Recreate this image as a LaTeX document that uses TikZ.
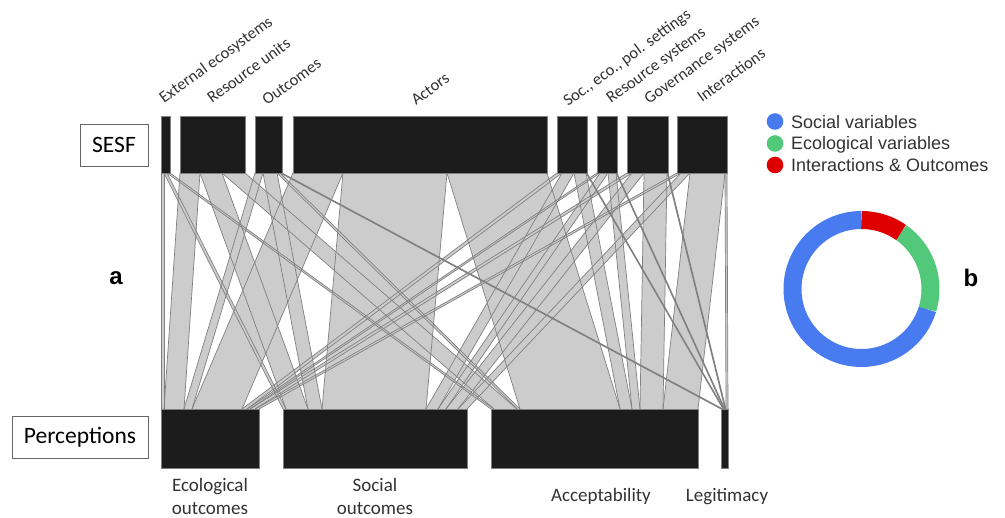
\documentclass[tikz,border=0pt]{standalone}
\usepackage{fontspec}
\setmainfont{Carlito}
\newfontfamily\legfont{Liberation Sans}
\usetikzlibrary{calc}
\definecolor{socblue}{RGB}{72,122,240}
\definecolor{ecogreen}{RGB}{82,200,122}
\definecolor{intred}{RGB}{222,0,0}
\definecolor{barblack}{RGB}{28,28,28}
\definecolor{ribgray}{RGB}{204,204,204}
\definecolor{edgegray}{RGB}{128,128,128}
\definecolor{txtgray}{RGB}{50,50,50}
\tikzset{
  ribbon/.style={fill=ribgray},
  ribedge/.style={draw=edgegray,line width=0.7pt},
  bar/.style={fill=barblack,draw=gray,line width=0.4pt},
  toplab/.style={rotate=36,anchor=base west,inner sep=0pt,text=txtgray,font=\fontsize{16.5}{19}\selectfont},
  botlab/.style={align=center,anchor=base,inner sep=0pt,text=txtgray,font=\fontsize{19}{22.5}\selectfont},
  catbox/.style={draw=gray!80!black,line width=0.6pt,inner sep=0pt,minimum height=42pt,font=\fontsize{23.5}{26}\selectfont},
  legtext/.style={anchor=base west,inner sep=0pt,text=txtgray,font=\legfont\fontsize{18}{21}\selectfont},
  panel/.style={font=\legfont\bfseries\fontsize{24}{28}\selectfont}
}
\begin{document}
\begin{tikzpicture}[x=1pt,y=-1pt]
\useasboundingbox (0,0) rectangle (1005,518);
% flows: top left/top right/bottom left/bottom right
\def\flows{161/164/161/164, 164/167/283/286, 167/170/491/494,
  180/200/164/184, 200/222/286/308, 222/245/494/517,
  255/263/184/192, 263/277/308/322, 277/280/517/520, 280/282/721/723,
  293/343/192/242, 343/447/322/426, 447/547/520/620,
  557/562/242/247, 562/574/426/438, 574/586/620/632, 586/587/723/724,
  597/600/247/250, 600/608/438/446, 608/616/632/640, 616/617/724/725,
  627/632/250/255, 632/644/446/458, 644/667/640/663, 667/668/725/726,
  677/681/255/259, 681/690/458/467, 690/725/663/698, 725/727/726/728}
\foreach \a/\b/\c/\d in \flows
  \fill[ribbon] (\a,173) -- (\b,173) -- (\d,409) -- (\c,409) -- cycle;
\foreach \a/\b/\c/\d in \flows
  \draw[ribedge] (\a,173) -- (\c,409) (\b,173) -- (\d,409);
% SESF bars
\foreach \l/\r in {161/170,180/245,255/282,293/547,557/587,597/617,627/668,677/727}
  \fill[bar] (\l,116) rectangle (\r,173);
% perception bars
\foreach \l/\r in {161/259,283/467,491/698,721/728}
  \fill[bar] (\l,409) rectangle (\r,468);
\node[catbox,minimum width=68pt] (sesf) at (114,145) {SESF};
\node[catbox,minimum width=136pt] (perc) at (80,437) {Perceptions};
\node[toplab] (ext) at (164,104) {External ecosystems};
\node[toplab] (runits) at (212,104) {Resource units};
\node[toplab] (outc) at (267,106) {Outcomes};
\node[toplab] (actors) at (416,106) {Actors};
\node[toplab] (settings) at (568,107) {Soc., eco., pol. settings};
\node[toplab] (rsys) at (611,104) {Resource systems};
\node[toplab] (gsys) at (649,105) {Governance systems};
\node[toplab] (inter) at (702,103) {Interactions};
\node[botlab] (ecoout) at (210,514.5) {Ecological\\outcomes};
\node[botlab] (socout) at (375,514.5) {Social\\outcomes};
\node[botlab] (accept) at (601,502) {Acceptability};
\node[botlab] (legit) at (727,502) {Legitimacy};
\node[panel] (pa) at (116,278) {a};
\node[panel] (pb) at (971,278) {b};
% legend
\fill[socblue] (775,121.5) circle[radius=8.3pt];
\fill[ecogreen] (775,143.5) circle[radius=8.3pt];
\fill[intred] (775,165) circle[radius=8.3pt];
\node[legtext] (lsoc) at (791,128.5) {Social variables};
\node[legtext] (leco) at (791,150) {Ecological variables};
\node[legtext] (lint) at (791,171.5) {Interactions \& Outcomes};
% donut
\coordinate (ring) at (861.5,289);
\draw[socblue,line width=18pt] (ring) ++(90:69pt) arc[start angle=90,end angle=343,radius=69pt];
\draw[ecogreen,line width=18pt] (ring) ++(-17:69pt) arc[start angle=-17,end angle=55,radius=69pt];
\draw[intred,line width=18pt] (ring) ++(55:69pt) arc[start angle=55,end angle=90,radius=69pt];
\end{tikzpicture}
\end{document}
